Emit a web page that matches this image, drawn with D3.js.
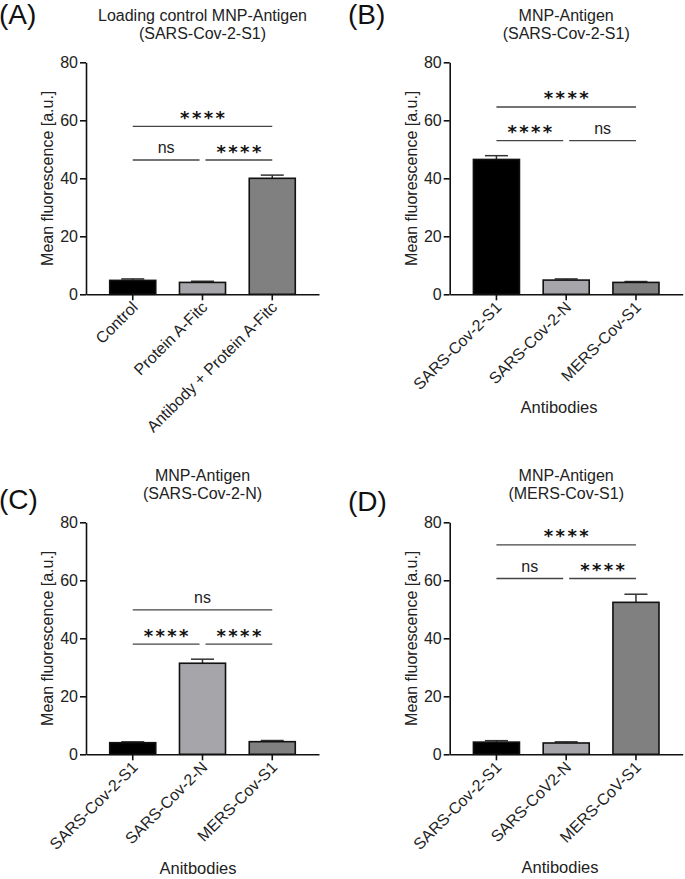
<!DOCTYPE html>
<html><head><meta charset="utf-8">
<script src="https://cdn.jsdelivr.net/npm/d3@7/dist/d3.min.js"></script>
<style>body{margin:0;background:#fff}svg{display:block;font-family:"Liberation Sans",Arial,sans-serif}</style>
</head><body>
<script>
// ---- data ----
const panelLetters = ["(A)", "(B)", "(C)", "(D)"];
const titlesLine1 = ["Loading control MNP-Antigen", "MNP-Antigen", "MNP-Antigen", "MNP-Antigen"];
const titlesLine2 = ["(SARS-Cov-2-S1)", "(SARS-Cov-2-S1)", "(SARS-Cov-2-N)", "(MERS-Cov-S1)"];
const categoriesA = ["Control", "Protein A-Fitc", "Antibody + Protein A-Fitc"];
const categoriesB = ["SARS-Cov-2-S1", "SARS-Cov-2-N", "MERS-Cov-S1"];
const categoriesC = ["SARS-Cov-2-S1", "SARS-Cov-2-N", "MERS-Cov-S1"];
const categoriesD = ["SARS-Cov-2-S1", "SARS-CoV2-N", "MERS-CoV-S1"];
const meansA = [4.8, 4.1, 40.0];
const errA = [0.5, 0.4, 1.1];
const meansB = [46.5, 4.9, 4.1];
const errB = [1.3, 0.4, 0.3];
const meansC = [4.0, 31.4, 4.35];
const errC = [0.3, 1.4, 0.4];
const meansD = [4.2, 3.9, 52.4];
const errD = [0.5, 0.4, 2.8];
const xTitles = [null, "Antibodies", "Anitbodies", "Antibodies"];
const yTitle = "Mean fluorescence [a.u.]";
const yTicks = [0, 20, 40, 60, 80];
// significance brackets: [from, to, height, label]
const sigA = [[0, 2, 57.9, "****"], [0, 1, 46.3, "ns"], [1, 2, 46.3, "****"]];
const sigB = [[0, 2, 64.6, "****"], [0, 1, 53.0, "****"], [1, 2, 53.0, "ns"]];
const sigC = [[0, 2, 49.8, "ns"], [0, 1, 38.0, "****"], [1, 2, 38.0, "****"]];
const sigD = [[0, 2, 72.2, "****"], [0, 1, 60.6, "ns"], [1, 2, 60.6, "****"]];
const barColors = ["#000000", "#a5a5aa", "#808080"];

// ---- layout ----
const W = 685, H = 879;
const svg = d3.select("body").append("svg").attr("width", W).attr("height", H);
const panels = [
  {cats: categoriesA, m: meansA, e: errA, sig: sigA, x0: 86, top: 62.3, bot: 294.3, lx: -1, ly: 24},
  {cats: categoriesB, m: meansB, e: errB, sig: sigB, x0: 449.7, top: 62.3, bot: 294.3, lx: 348, ly: 24, xtx: 559, xty: 413},
  {cats: categoriesC, m: meansC, e: errC, sig: sigC, x0: 86, top: 522.3, bot: 754.3, lx: -1, ly: 509, xtx: 198, xty: 874},
  {cats: categoriesD, m: meansD, e: errD, sig: sigD, x0: 449.7, top: 522.3, bot: 754.3, lx: 348, ly: 511, xtx: 560, xty: 873}
];
const plotW = 233;

panels.forEach((p, i) => {
  const g = svg.append("g");
  const x = d3.scaleBand().domain(p.cats).range([p.x0, p.x0 + plotW]).paddingInner(0.34).paddingOuter(0.34);
  const y = d3.scaleLinear().domain([0, 80]).range([p.bot, p.top]);
  const cx = c => x(c) + x.bandwidth() / 2;

  // panel letter
  g.append("text").attr("x", p.lx).attr("y", p.ly).attr("font-size", 28).attr("fill", "#111").text(panelLetters[i]);
  // titles
  const tc = p.x0 + plotW / 2;
  g.append("text").attr("x", tc).attr("y", p.top - 41.5).attr("text-anchor", "middle").attr("font-size", 16).attr("fill", "#222").text(titlesLine1[i]);
  g.append("text").attr("x", tc).attr("y", p.top - 23).attr("text-anchor", "middle").attr("font-size", 16).attr("fill", "#222").text(titlesLine2[i]);

  // bars
  p.cats.forEach((c, j) => {
    const v = p.m[j], top = v + p.e[j];
    g.append("line").attr("x1", cx(c)).attr("x2", cx(c)).attr("y1", y(v)).attr("y2", y(top)).attr("stroke", "#333").attr("stroke-width", 1.5);
    g.append("line").attr("x1", cx(c) - x.bandwidth() / 4).attr("x2", cx(c) + x.bandwidth() / 4).attr("y1", y(top)).attr("y2", y(top)).attr("stroke", "#333").attr("stroke-width", 1.5);
    g.append("rect").attr("x", x(c)).attr("y", y(v)).attr("width", x.bandwidth()).attr("height", y(0) - y(v))
      .attr("fill", barColors[j]).attr("stroke", "#111").attr("stroke-width", 1.6);
  });

  // y axis
  const ya = g.append("g").attr("transform", `translate(${p.x0},0)`).call(d3.axisLeft(y).tickValues(yTicks).tickSize(6).tickSizeOuter(0).tickPadding(2));
  ya.select(".domain").attr("stroke", "#111").attr("stroke-width", 1.6);
  ya.selectAll(".tick line").attr("stroke", "#111").attr("stroke-width", 1.6);
  ya.selectAll(".tick text").attr("font-size", 16).attr("fill", "#222").attr("font-family", "Liberation Sans, Arial, sans-serif");
  // x axis
  const xa = g.append("g").attr("transform", `translate(0,${p.bot})`).call(d3.axisBottom(x).tickSize(6).tickSizeOuter(0).tickPadding(2));
  xa.select(".domain").attr("stroke", "#111").attr("stroke-width", 1.6);
  xa.selectAll(".tick line").attr("stroke", "#111").attr("stroke-width", 1.6);
  xa.selectAll(".tick text").attr("font-size", 16).attr("fill", "#222").attr("font-family", "Liberation Sans, Arial, sans-serif")
    .attr("text-anchor", "end").attr("dy", null).attr("y", 0).attr("x", 0)
    .attr("transform", "translate(6,14) rotate(-45)");

  // y title
  g.append("text").attr("transform", `translate(${p.x0 - 33},${(p.top + p.bot) / 2}) rotate(-90)`)
    .attr("text-anchor", "middle").attr("font-size", 16).attr("fill", "#222").text(yTitle);
  // x title
  if (xTitles[i]) g.append("text").attr("x", p.xtx).attr("y", p.xty).attr("text-anchor", "middle").attr("font-size", 16.5).attr("fill", "#222").text(xTitles[i]);

  // significance
  p.sig.forEach(([a, b, h, lab]) => {
    let x1 = cx(p.cats[a]), x2 = cx(p.cats[b]);
    if (a === 1) x1 += 3;
    if (b === 1) x2 -= 3;
    g.append("line").attr("x1", x1).attr("x2", x2).attr("y1", y(h)).attr("y2", y(h)).attr("stroke", "#444").attr("stroke-width", 1.4);
    const mx = (x1 + x2) / 2;
    if (lab === "ns") {
      g.append("text").attr("x", mx).attr("y", y(h) - 7).attr("text-anchor", "middle").attr("font-size", 16).attr("fill", "#222").text(lab);
    } else {
      g.append("text").attr("x", mx + 1.2).attr("y", y(h) - 2.5).attr("text-anchor", "middle")
        .attr("font-family", "DejaVu Sans, sans-serif").attr("font-size", 18).attr("font-weight", "bold")
        .attr("letter-spacing", 2.4).attr("fill", "#111").text(lab);
    }
  });
});
</script>
</body></html>
